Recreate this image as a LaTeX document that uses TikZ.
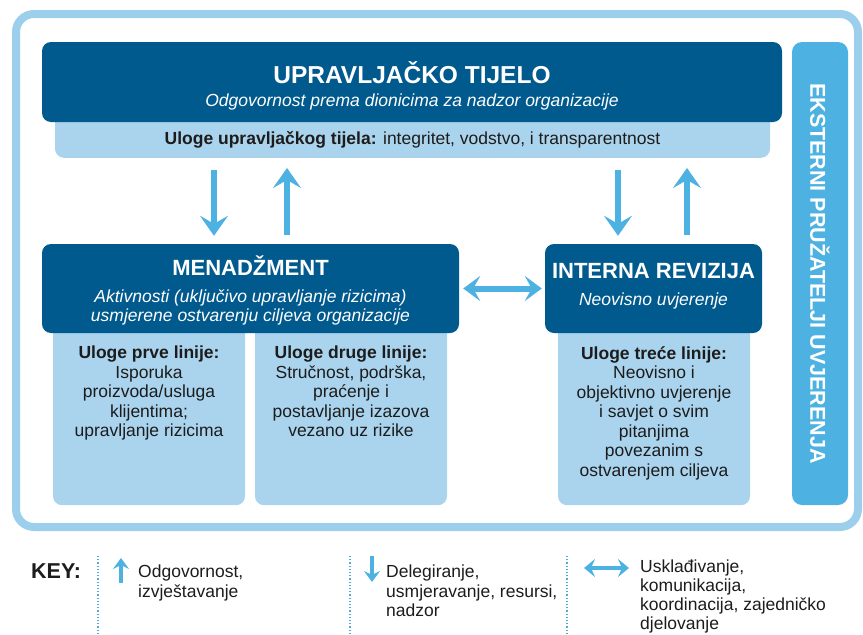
\documentclass[tikz,border=0pt]{standalone}
\usepackage{fontspec}
\setmainfont{Liberation Sans}
\usetikzlibrary{arrows.meta}

\definecolor{darkblue}{RGB}{0,90,142}
\definecolor{paleblue}{RGB}{170,212,238}
\definecolor{midblue}{RGB}{77,178,226}
\definecolor{frameblue}{RGB}{155,207,236}
\definecolor{dotblue}{RGB}{80,172,212}
\definecolor{inkgray}{RGB}{28,28,28}

\newcommand{\bodyfont}{\fontsize{17.5}{19.5}\selectfont}
\newcommand{\rolepar}[1]{\parbox[t][185pt][t]{192pt}{\centering\vspace*{26pt}#1}}

\begin{document}
\begin{tikzpicture}[x=1pt,y=-1pt,
    headbox/.style={fill=darkblue, rounded corners=9pt, inner sep=0pt},
    headtext/.style={text=white, align=center, inner sep=0pt},
    rolebox/.style={fill=paleblue, text=inkgray, rounded corners=9pt, inner sep=0pt, anchor=north, font=\bodyfont},
    fatarrow/.style={midblue, line width=6pt, -{Stealth[length=20pt,width=28pt,inset=8pt]}},
    twoway/.style={midblue, line width=6pt, {Stealth[length=17pt,width=25pt,inset=7pt]}-{Stealth[length=17pt,width=25pt,inset=7pt]}},
    keytext/.style={anchor=north west, align=left, inner sep=0pt, text=inkgray, font=\bodyfont},
    keyline/.style={dotblue, dotted, line width=1.2pt}]
   \useasboundingbox (0,0) rectangle (863,635);
   % outer frame
   \draw[frameblue, line width=8pt, rounded corners=18pt] (16,14) rectangle (858,527);
   % governing body
   \node[fill=paleblue, rounded corners=9pt, anchor=south, minimum width=715pt, minimum height=46pt,
         inner sep=0pt, text=inkgray, font=\bodyfont] (band) at (412.5,158)
     {\rule[-4pt]{0pt}{28pt}\textbf{Uloge upravljačkog tijela:} integritet, vodstvo, i transparentnost};
   \node[headbox, minimum width=740pt, minimum height=80pt] (gov) at (412,82) {};
   \node[headtext, font=\bodyfont] (govtext) at (412,85.5)
     {{\fontsize{24.5}{26}\selectfont\bfseries UPRAVLJAČKO TIJELO}\\[3.5pt]
      \itshape Odgovornost prema dionicima za nadzor organizacije};
   % lines
   \node[rolebox] (first) at (149,320)
     {\rolepar{\textbf{Uloge prve linije:}\\ Isporuka\\ proizvoda/usluga\\ klijentima;\\ upravljanje rizicima}};
   \node[rolebox] (second) at (351,320)
     {\rolepar{\textbf{Uloge druge linije:}\\ Stručnost, podrška,\\ praćenje i\\ postavljanje izazova\\ vezano uz rizike}};
   \node[rolebox] (third) at (654,320)
     {\rolepar{\textbf{Uloge treće linije:}\\ Neovisno i\\ objektivno uvjerenje\\ i savjet o svim\\ pitanjima\\ povezanim s\\ ostvarenjem ciljeva}};
   \node[headbox, minimum width=417pt, minimum height=89pt] (mena) at (250.5,288.5) {};
   \node[headtext, font=\fontsize{17.5}{18.5}\selectfont] (menatext) at (250.5,290.5)
     {{\fontsize{22}{24}\selectfont\bfseries MENADŽMENT}\\[8.5pt]
      \itshape Aktivnosti (uključivo upravljanje rizicima)\\
      \itshape usmjerene ostvarenju ciljeva organizacije};
   \node[headbox, minimum width=217pt, minimum height=89pt] (audit) at (653.5,288.5) {};
   \node[headtext, font=\bodyfont] (audittext) at (653.5,286)
     {{\fontsize{22}{24}\selectfont\bfseries INTERNA REVIZIJA}\\[7.5pt]
      \itshape Neovisno uvjerenje};
   % external assurance
   \node[fill=midblue, rounded corners=10pt, minimum width=463pt, minimum height=56pt, inner sep=0pt,
         rotate=-90, text=white, font=\fontsize{21.5}{24}\selectfont\bfseries] (ext) at (820,273.5)
     {EKSTERNI PRUŽATELJI UVJERENJA};
   % arrows
   \coordinate (dnL) at (214,0);
   \coordinate (upL) at (287,0);
   \coordinate (dnR) at (618,0);
   \coordinate (upR) at (687,0);
   \draw[fatarrow, shorten <=12pt, shorten >=8pt] (band.south -| dnL) -- (mena.north -| dnL);
   \draw[fatarrow, shorten <=9pt, shorten >=10pt] (mena.north -| upL) -- (band.south -| upL);
   \draw[fatarrow, shorten <=12pt, shorten >=8pt] (band.south -| dnR) -- (audit.north -| dnR);
   \draw[fatarrow, shorten <=9pt, shorten >=10pt] (audit.north -| upR) -- (band.south -| upR);
   \draw[twoway, shorten <=4pt, shorten >=3pt] (mena.east) -- (audit.west);
   % key
   \node[anchor=base west, inner sep=0pt, text=inkgray, font=\fontsize{21.5}{24}\selectfont\bfseries] (key) at (31,578) {KEY:};
   \draw[keyline] (98,556) -- (98,635);
   \draw[keyline] (350,556) -- (350,635);
   \draw[keyline] (567,556) -- (567,635);
   \draw[midblue, line width=4pt, -{Stealth[length=11pt,width=16pt,inset=4pt]}] (121,583) -- (121,558);
   \draw[midblue, line width=4pt, -{Stealth[length=11pt,width=16pt,inset=4pt]}] (372,556) -- (372,582);
   \draw[midblue, line width=4pt, {Stealth[length=11pt,width=18pt,inset=4pt]}-{Stealth[length=11pt,width=18pt,inset=4pt]}] (584,568) -- (629,568);
   \node[keytext] (keyup) at (138,565) {Odgovornost,\\ izvještavanje};
   \node[keytext] (keydown) at (386,565) {Delegiranje,\\ usmjeravanje, resursi,\\ nadzor};
   \node[keytext, font=\fontsize{17.5}{19}\selectfont] (keyboth) at (640,560) {Usklađivanje,\\ komunikacija,\\ koordinacija, zajedničko\\ djelovanje};
\end{tikzpicture}
\end{document}
